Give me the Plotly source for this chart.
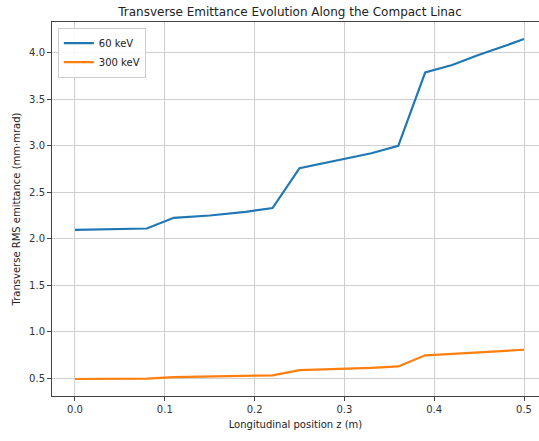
import plotly.graph_objects as go

z = [0.0, 0.08, 0.11, 0.15, 0.19, 0.22, 0.25, 0.27, 0.30, 0.33, 0.36, 0.39, 0.42, 0.45, 0.48, 0.50]
emit_60 = [2.095, 2.11, 2.225, 2.25, 2.29, 2.33, 2.76, 2.80, 2.855, 2.92, 3.0, 3.79, 3.87, 3.98, 4.08, 4.15]
emit_300 = [0.49, 0.495, 0.51, 0.515, 0.52, 0.53, 0.585, 0.59, 0.60, 0.61, 0.625, 0.745, 0.76, 0.775, 0.79, 0.805]
series_names = ["60 keV", "300 keV"]
x_ticks = [0.0, 0.1, 0.2, 0.3, 0.4, 0.5]
y_ticks = [0.5, 1.0, 1.5, 2.0, 2.5, 3.0, 3.5, 4.0]

font = "DejaVu Sans"
fig = go.Figure()
fig.add_trace(go.Scatter(x=z, y=emit_60, mode="lines", name=series_names[0],
                         line=dict(color="#1f77b4", width=2.2)))
fig.add_trace(go.Scatter(x=z, y=emit_300, mode="lines", name=series_names[1],
                         line=dict(color="#ff7f0e", width=2.2)))

fig.update_layout(
    width=539, height=441,
    margin=dict(l=52, r=0, t=22, b=45),
    paper_bgcolor="white", plot_bgcolor="white",
    font=dict(family=font, size=10, color="#333333"),
    title=dict(text="Transverse Emittance Evolution Along the Compact Linac",
               x=290/539, xanchor="center", y=1-12/441, yanchor="middle",
               font=dict(family=font, size=12, color="#222222")),
    legend=dict(x=0.012, y=0.985, xanchor="left", yanchor="top",
                bgcolor="rgba(255,255,255,0.85)", bordercolor="#cccccc", borderwidth=1,
                font=dict(family=font, size=10, color="#222222"),
                tracegroupgap=0, itemwidth=30),
    showlegend=True,
)
fig.update_xaxes(
    range=[-0.0256, 0.5167], tickvals=x_ticks, ticktext=[f"{v:.1f}" for v in x_ticks],
    showgrid=True, gridcolor="#cfcfcf", gridwidth=1, zeroline=False,
    showline=True, linecolor="#444444", linewidth=1, mirror=True,
    ticks="outside", ticklen=4, tickcolor="#444444",
    title=dict(text="Longitudinal position z (m)", font=dict(family=font, size=10, color="#222222"), standoff=6),
)
fig.update_yaxes(
    range=[0.307, 4.333], tickvals=y_ticks, ticktext=[f"{v:.1f}" for v in y_ticks],
    showgrid=True, gridcolor="#cfcfcf", gridwidth=1, zeroline=False,
    showline=True, linecolor="#444444", linewidth=1,
    ticks="outside", ticklen=4, tickcolor="#444444",
    title=dict(text="Transverse RMS emittance (mm·mrad)", font=dict(family=font, size=10, color="#222222"), standoff=6),
)
fig.write_html("out.html")
